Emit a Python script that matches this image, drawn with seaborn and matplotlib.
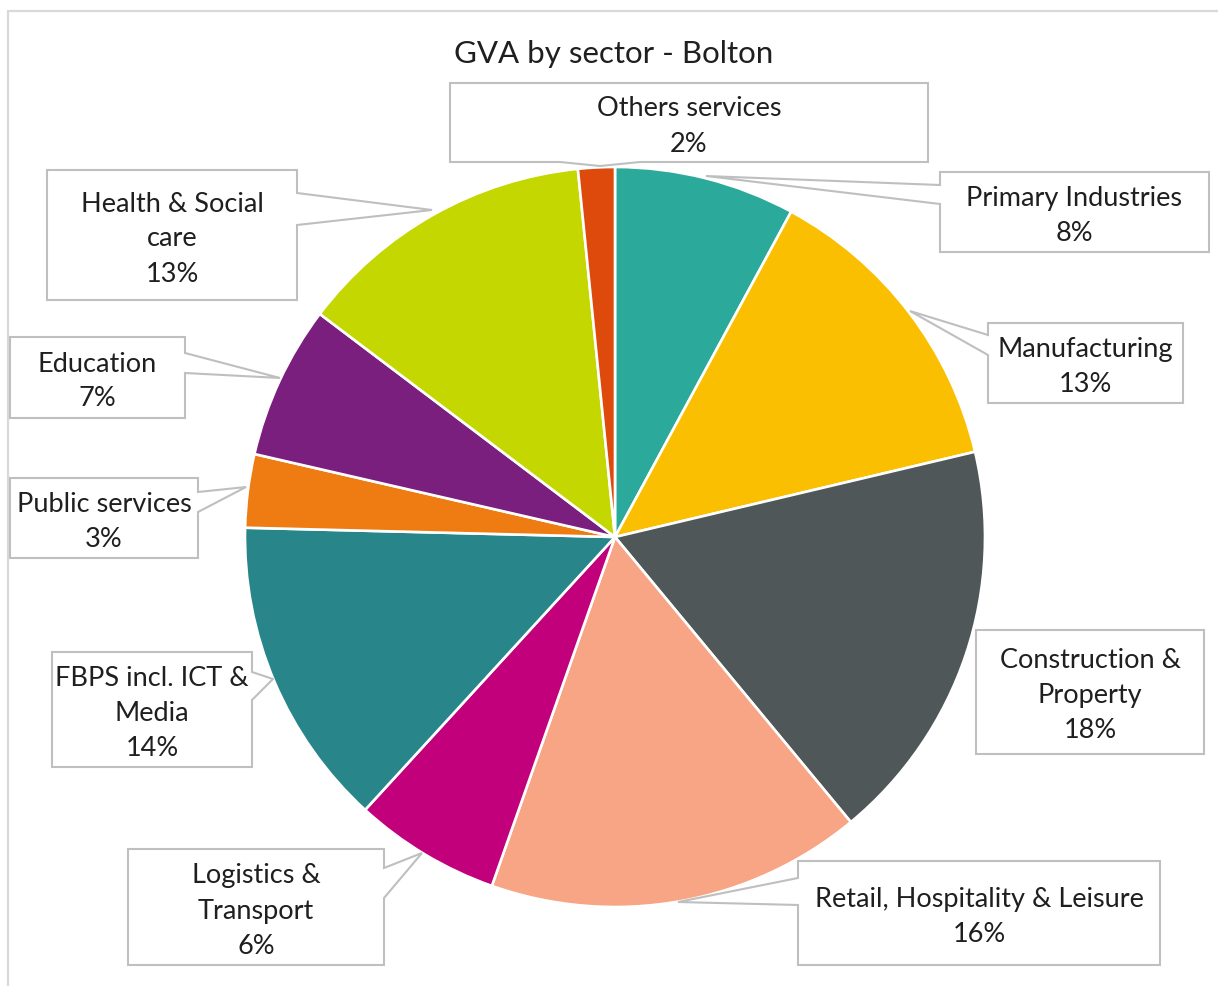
import matplotlib
matplotlib.use("Agg")
import matplotlib.pyplot as plt
from matplotlib.patches import Polygon
import seaborn as sns

# ---- data ----
sectors = ["Primary Industries", "Manufacturing", "Construction &\nProperty",
           "Retail, Hospitality & Leisure", "Logistics &\nTransport",
           "FBPS incl. ICT &\nMedia", "Public services", "Education",
           "Health & Social\ncare", "Others services"]
values = [7.9, 13.4, 17.7, 16.4, 6.4, 13.6, 3.2, 6.7, 13.1, 1.6]
colors = ["#2BA99B", "#F9BF00", "#4F5759", "#F7A584", "#C2007B",
          "#28868A", "#EF7C12", "#7B1F7F", "#C5D700", "#DD4A0C"]
title = "GVA by sector - Bolton"

sns.set_theme(style="white")
plt.rcParams['font.family'] = ['Lato', 'DejaVu Sans']

W, H = 1218, 986
fig = plt.figure(figsize=(W / 100, H / 100), dpi=100)
ax = fig.add_axes([0, 0, 1, 1])

def Y(y):
    return H - y

# pie
cx, cy, r = 615, 537, 370
ax.pie(values, colors=colors, startangle=90, counterclock=False,
       center=(cx, Y(cy)), radius=r,
       wedgeprops=dict(edgecolor="white", linewidth=1.9))

ax.set_xlim(0, W)
ax.set_ylim(0, H)
ax.set_aspect("equal")
ax.axis("off")

# outer frame (top and left visible)
ax.plot([8, W + 5], [Y(11), Y(11)], color="#D9D9D9", lw=1.6, clip_on=False)
ax.plot([8, 8], [Y(11), Y(H + 5)], color="#D9D9D9", lw=1.6, clip_on=False)

ax.text(614, Y(54), title, ha="center", va="center", fontsize=22.5, color="#1F1F1F")

# callout boxes: (x0, x1, y0, y1, side, b0, b1, tip)
boxes = [
    (940, 1209, 172, 252, "left", 185, 204, (706, 176)),
    (988, 1183, 323, 403, "left", 335, 355, (910, 311)),
    (976, 1204, 630, 754, None, 0, 0, None),
    (798, 1160, 861, 965, "left", 878, 905, (678, 902)),
    (128, 384, 849, 965, "right", 868, 898, (422, 853)),
    (52, 252, 652, 767, "right", 672, 700, (273, 679)),
    (10, 198, 478, 558, "right", 492, 512, (246, 487)),
    (10, 185, 337, 418, "right", 353, 373, (280, 378)),
    (47, 297, 170, 300, "right", 193, 225, (432, 210)),
    (450, 928, 83, 162, "bottom", 560, 640, (600, 166)),
]

def callout(x0, x1, y0, y1, side, b0, b1, tip):
    if side == "left":
        pts = [(x0, y0), (x1, y0), (x1, y1), (x0, y1), (x0, b1), tip, (x0, b0)]
    elif side == "right":
        pts = [(x0, y0), (x1, y0), (x1, b0), tip, (x1, b1), (x1, y1), (x0, y1)]
    elif side == "bottom":
        pts = [(x0, y0), (x1, y0), (x1, y1), (b1, y1), tip, (b0, y1), (x0, y1)]
    else:
        pts = [(x0, y0), (x1, y0), (x1, y1), (x0, y1)]
    return [(px, Y(py)) for px, py in pts]

for name, v, b in zip(sectors, values, boxes):
    x0, x1, y0, y1, side, b0, b1, tip = b
    poly = Polygon(callout(*b), closed=True, facecolor="white",
                   edgecolor="#BFBFBF", linewidth=1.5, zorder=5)
    ax.add_patch(poly)
    ax.text((x0 + x1) / 2, Y((y0 + y1) / 2 + 4), f"{name}\n{round(v)}%",
            ha="center", va="center", multialignment="center",
            fontsize=19.5, color="#1F1F1F", linespacing=1.5, zorder=6)

fig.savefig("out.png", dpi=100)
